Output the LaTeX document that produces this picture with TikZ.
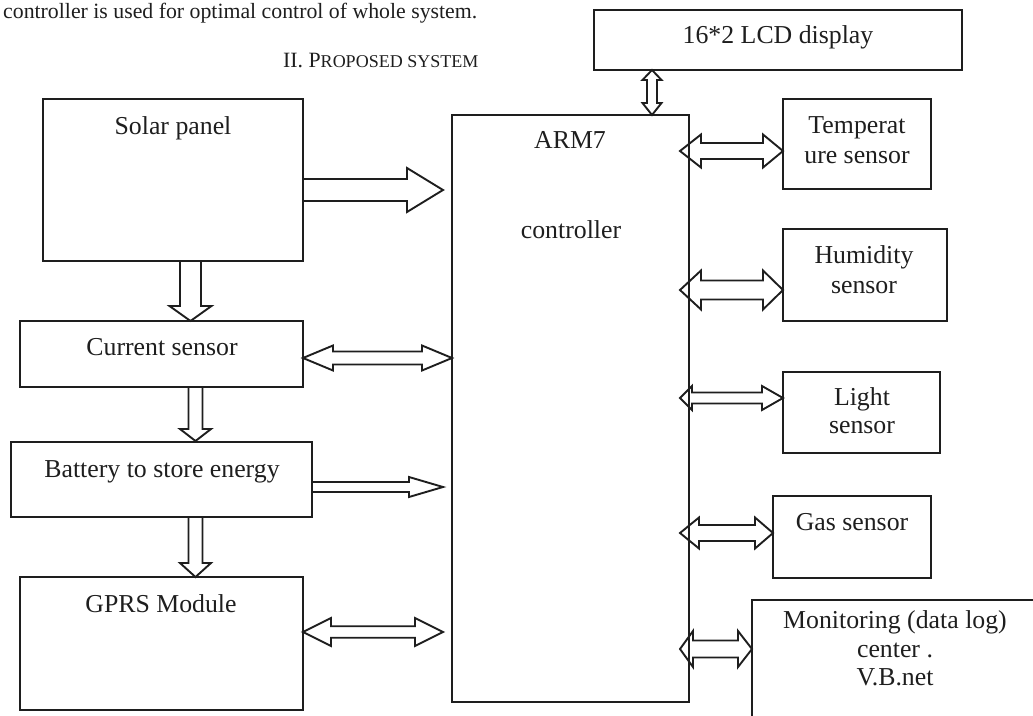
\documentclass[tikz,border=0pt]{standalone}
\usepackage{fontspec}
\setmainfont{Liberation Serif}
\usetikzlibrary{calc}
\definecolor{ink}{HTML}{1E1E1E}

% hollow block arrow with one head: tail, tip, shaft half width, head half width, head length
\newcommand{\onearrow}[5]{%
  \coordinate (fa-a) at #1;
  \coordinate (fa-b) at #2;
  \coordinate (fa-q) at ($(fa-b)!#5!(fa-a)$);
  \draw[flow] ($(fa-a)!#3!90:(fa-b)$) -- ($(fa-q)!#3!90:(fa-b)$) -- ($(fa-q)!#4!90:(fa-b)$)
    -- (fa-b) -- ($(fa-q)!#4!-90:(fa-b)$) -- ($(fa-q)!#3!-90:(fa-b)$) -- ($(fa-a)!#3!-90:(fa-b)$);
}
% hollow block arrow with two heads: ends, shaft half width, head half width, head lengths
\newcommand{\twoarrow}[6]{%
  \coordinate (fa-a) at #1;
  \coordinate (fa-b) at #2;
  \coordinate (fa-p) at ($(fa-a)!#5!(fa-b)$);
  \coordinate (fa-q) at ($(fa-b)!#6!(fa-a)$);
  \draw[flow] (fa-a) -- ($(fa-p)!#4!90:(fa-b)$) -- ($(fa-p)!#3!90:(fa-b)$) -- ($(fa-q)!#3!90:(fa-b)$)
    -- ($(fa-q)!#4!90:(fa-b)$) -- (fa-b) -- ($(fa-q)!#4!-90:(fa-b)$) -- ($(fa-q)!#3!-90:(fa-b)$)
    -- ($(fa-p)!#3!-90:(fa-b)$) -- ($(fa-p)!#4!-90:(fa-b)$) -- cycle;
}

\tikzset{
  box/.style={draw=ink, line width=1.9pt, inner sep=0pt, outer sep=0pt, rectangle},
  flow/.style={draw=ink, line width=1.9pt, line join=miter},
  lbl/.style={anchor=base, inner sep=0pt, text=ink, font=\fontsize{25.8}{30}\selectfont},
  body/.style={anchor=base west, inner sep=0pt, text=ink, font=\fontsize{21.8}{26}\selectfont},
}

\begin{document}
\begin{tikzpicture}[x=1pt, y=-1pt]
\useasboundingbox (0,0) rectangle (1033,715);
\clip (0,0) rectangle (1033,715);

% running text above the figure
\node[body] (para) at (3,18) {controller is used for optimal control of whole system.};
\node[body] (head) at (283,67) {II. P{\fontsize{18}{20}\selectfont ROPOSED SYSTEM}};

% blocks
\node[box, minimum width=368pt, minimum height=60pt]  (lcd)     at (778,40)    {};
\node[box, minimum width=260pt, minimum height=162pt] (solar)   at (173,180)   {};
\node[box, minimum width=283pt, minimum height=66pt]  (current) at (161.5,354) {};
\node[box, minimum width=301pt, minimum height=75pt]  (battery) at (161.5,479.5) {};
\node[box, minimum width=283pt, minimum height=133pt] (gprs)    at (161.5,643.5) {};
\node[box, minimum width=237pt, minimum height=587pt] (arm)     at (570.5,408.5) {};
\node[box, minimum width=148pt, minimum height=90pt]  (temp)    at (857,144)   {};
\node[box, minimum width=164pt, minimum height=92pt]  (hum)     at (865,275)   {};
\node[box, minimum width=157pt, minimum height=81pt]  (light)   at (861.5,412.5) {};
\node[box, minimum width=158pt, minimum height=82pt]  (gas)     at (852,537)   {};
\node[box, minimum width=300pt, minimum height=140pt] (mon)     at (902,670)   {};

% block labels
\node[lbl] (lcdt)    at (778,43)  {16*2 LCD display};
\node[lbl] (solart)  at (173,134) {Solar panel};
\node[lbl] (curt)    at (162,355) {Current sensor};
\node[lbl] (batt)    at (162,477) {Battery to store energy};
\node[lbl] (gprst)   at (161,612) {GPRS Module};
\node[lbl] (armt)    at (570,148) {ARM7};
\node[lbl] (armt2)   at (571,238) {controller};
\node[lbl] (tempt)   at (857,133) {Temperat};
\node[lbl] (tempt2)  at (857,163) {ure sensor};
\node[lbl] (humt)    at (864,263) {Humidity};
\node[lbl] (humt2)   at (864,293) {sensor};
\node[lbl] (lightt)  at (862,405) {Light};
\node[lbl] (lightt2) at (862,433) {sensor};
\node[lbl] (gast)    at (852,530) {Gas sensor};
\node[lbl] (mont)    at (895,628) {Monitoring (data log)};
\node[lbl] (mont2)   at (895,657) {center .};
\node[lbl] (mont3)   at (895,685) {V.B.net};

% display link
\coordinate (lcdp) at ($(lcd.south west)+(58,0)$);
\twoarrow{(lcdp)}{(lcdp |- arm.north)}{5pt}{9.5pt}{10pt}{12pt}

% power path on the left
\coordinate (s1) at ([yshift=-10pt]solar.east);
\onearrow{(s1)}{($(arm.west |- s1)+(-9,0)$)}{11pt}{22pt}{36pt}
\coordinate (s2) at ([xshift=17.5pt]solar.south);
\onearrow{(s2)}{(s2 |- current.north)}{10.5pt}{21pt}{15pt}
\coordinate (c1) at ([yshift=-4pt]current.east);
\twoarrow{(c1)}{(arm.west |- c1)}{6.5pt}{12.5pt}{30pt}{30pt}
\coordinate (c2) at ([xshift=34pt]current.south);
\onearrow{(c2)}{($(c2 |- battery.north)+(0,-1)$)}{7pt}{15.5pt}{12pt}
\coordinate (b1) at ([yshift=-7.5pt]battery.east);
\onearrow{(b1)}{($(arm.west |- b1)+(-9,0)$)}{5pt}{10pt}{34pt}
\coordinate (b2) at ([xshift=34pt]battery.south);
\onearrow{(b2)}{(b2 |- gprs.north)}{7pt}{15.5pt}{14pt}
\coordinate (g1) at ([yshift=11.5pt]gprs.east);
\twoarrow{(g1)}{($(arm.west |- g1)+(-9,0)$)}{5.75pt}{14pt}{28pt}{28pt}

% sensor and monitoring links on the right
\coordinate (t1) at ([yshift=-7pt]temp.west);
\twoarrow{($(arm.east |- t1)+(-9,0)$)}{(t1)}{8pt}{16.5pt}{21pt}{20pt}
\coordinate (h1) at ([yshift=-15pt]hum.west);
\twoarrow{($(arm.east |- h1)+(-9,0)$)}{(h1)}{9.5pt}{19.5pt}{21pt}{20pt}
\coordinate (l1) at ([yshift=14.5pt]light.west);
\twoarrow{($(arm.east |- l1)+(-9,0)$)}{(l1)}{5.5pt}{12pt}{12pt}{21pt}
\coordinate (gs1) at ([yshift=4pt]gas.west);
\twoarrow{($(arm.east |- gs1)+(-9,0)$)}{(gs1)}{8pt}{15.5pt}{19pt}{18pt}
\coordinate (m1) at ([yshift=21pt]mon.west);
\twoarrow{($(arm.east |- m1)+(-9,0)$)}{(m1)}{8.5pt}{18pt}{13pt}{14pt}
\end{tikzpicture}
\end{document}
